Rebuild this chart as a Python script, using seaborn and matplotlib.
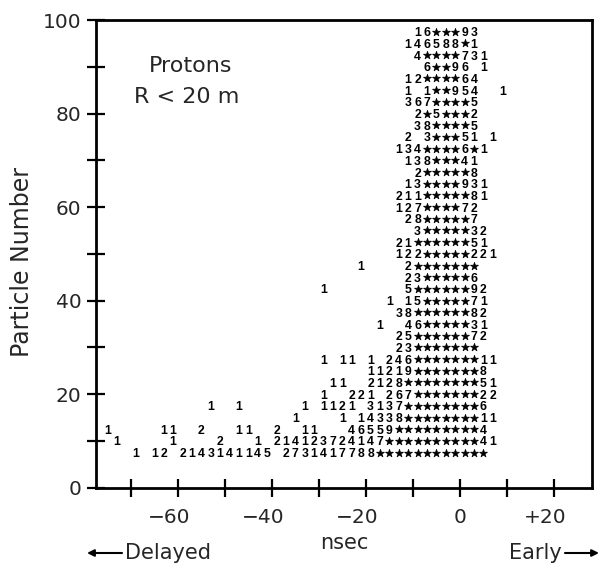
import matplotlib
matplotlib.use("Agg")
import matplotlib.pyplot as plt
import numpy as np
import pandas as pd
import seaborn as sns
from matplotlib.transforms import ScaledTranslation

# ---- data: printed character rows (particle number, first time bin in nsec, printed string) ----
particle_rows = [97.5, 95.0, 92.5, 90.0, 87.5, 85.0, 82.5, 80.0, 77.5, 75.0,
                 72.5, 70.0, 67.5, 65.0, 62.5, 60.0, 57.5, 55.0, 52.5, 50.0,
                 47.5, 45.0, 42.5, 40.0, 37.5, 35.0, 32.5, 30.0, 27.5, 25.0,
                 22.5, 20.0, 17.5, 15.0, 12.5, 10.0, 7.5]
first_bins = [-9, -11, -9, -7, -11, -11, -11, -9, -9, -11,
              -13, -11, -9, -11, -13, -13, -11, -9, -13, -13,
              -21, -11, -29, -15, -13, -17, -13, -13, -29, -19,
              -27, -29, -53, -35, -75, -73, -69]
row_text = [
    "16***93",
    "146588*1",
    "4****731",
    "6**96 1",
    "12****64",
    "1 1**954  1",
    "367****5",
    "2*5***2",
    "38****5",
    "2 3***51 1",
    "134****6*1",
    "138***41",
    "2*****8",
    "13****931",
    "211*****81",
    "127****72",
    "28*****7",
    "3*****32",
    "21******51",
    "122*****221",
    "1    2*******",
    "23*****6",
    "1        5******92",
    "1 15*****71",
    "38******82",
    "1  46*****31",
    "25******72",
    "23*******",
    "1 11 1 246*******11",
    "11219*******8",
    "11  2128********51",
    "1  221 267*******22",
    "1  1      1 1121 3137********6",
    "1    1 14338********11",
    "1     11  2   11  2  11   46559*********4",
    "1     1    2   1 214123724147**********41",
    "1 12 2143141145 2731417788************",
]
bin_width = 2  # nsec per printed column

x_major = [-60, -40, -20, 0, 20]
x_major_labels = ["\u221260", "\u221240", "\u221220", "0", "+20"]
x_minor = [-70, -50, -30, -10, 10]
y_major = [0, 20, 40, 60, 80, 100]
y_minor = [10, 30, 50, 70, 90]

recs = []
for yv, x0, s in zip(particle_rows, first_bins, row_text):
    for i, ch in enumerate(s):
        if ch != " ":
            recs.append((x0 + bin_width * i, yv, ch))
df = pd.DataFrame(recs, columns=["nsec", "particle", "char"])

sns.set_style("ticks")
plt.rcParams["font.family"] = ["DejaVu Sans"]

fig = plt.figure(figsize=(6.02, 5.70), dpi=100)
ax = fig.add_axes([96 / 602, (570 - 487.7) / 570, 496 / 602, 467.7 / 570])

stars = df[df["char"] == "*"]
sns.scatterplot(data=stars, x="nsec", y="particle", marker="*", s=36,
                color="black", edgecolor="black", linewidth=0.5, ax=ax, legend=False)
for r in df[df["char"] != "*"].itertuples():
    ax.text(r.nsec, r.particle, r.char, ha="center", va="center_baseline",
            fontsize=8.8, fontweight="bold", family="Liberation Sans", color="black")

ax.set_xlim(-77.4, 28.1)
ax.set_ylim(0, 100)
ax.set_xticks(x_major)
ax.set_xticklabels(x_major_labels)
ax.set_xticks(x_minor, minor=True)
ax.set_yticks(y_major)
ax.set_yticks(y_minor, minor=True)
ax.tick_params(axis="both", which="both", direction="inout", length=13, width=1.6,
               color="black", top=False, right=False)
ax.tick_params(axis="x", which="major", labelsize=14.5, pad=8)
ax.tick_params(axis="y", which="major", labelsize=14.5, pad=4)
for sp in ax.spines.values():
    sp.set_visible(True)
    sp.set_linewidth(2.0)
    sp.set_color("black")

for lab in ax.get_xticklabels():
    if lab.get_text()[:1] in ("\u2212", "+"):
        lab.set_transform(lab.get_transform() + ScaledTranslation(-9 / 100, 0, fig.dpi_scale_trans))

ax.set_xlabel("nsec", fontsize=15)
ax.xaxis.set_label_coords(0.5, -0.118)
ax.xaxis.label.set_va("center")
ax.set_ylabel("Particle Number", fontsize=17)
ax.yaxis.set_label_coords(-0.149, 0.4826)
ax.yaxis.label.set_va("center")

ax.text(0.19, 0.9016, "Protons", transform=ax.transAxes, ha="center", va="center", fontsize=16)
ax.text(0.183, 0.835, "R < 20 m", transform=ax.transAxes, ha="center", va="center", fontsize=16)

ty = (570 - 553) / 570
fig.text(125 / 602, ty, "Delayed", ha="left", va="center", fontsize=15)
fig.text(562 / 602, ty, "Early", ha="right", va="center", fontsize=15)
arrow = dict(arrowstyle="-|>", lw=1.5, color="black", mutation_scale=10, shrinkA=0, shrinkB=0)
fig.add_artist(matplotlib.patches.FancyArrowPatch((122 / 602, ty), (87 / 602, ty),
               transform=fig.transFigure, **arrow))
fig.add_artist(matplotlib.patches.FancyArrowPatch((565 / 602, ty), (599 / 602, ty),
               transform=fig.transFigure, **arrow))

fig.savefig("out.png", dpi=100, facecolor="white")
